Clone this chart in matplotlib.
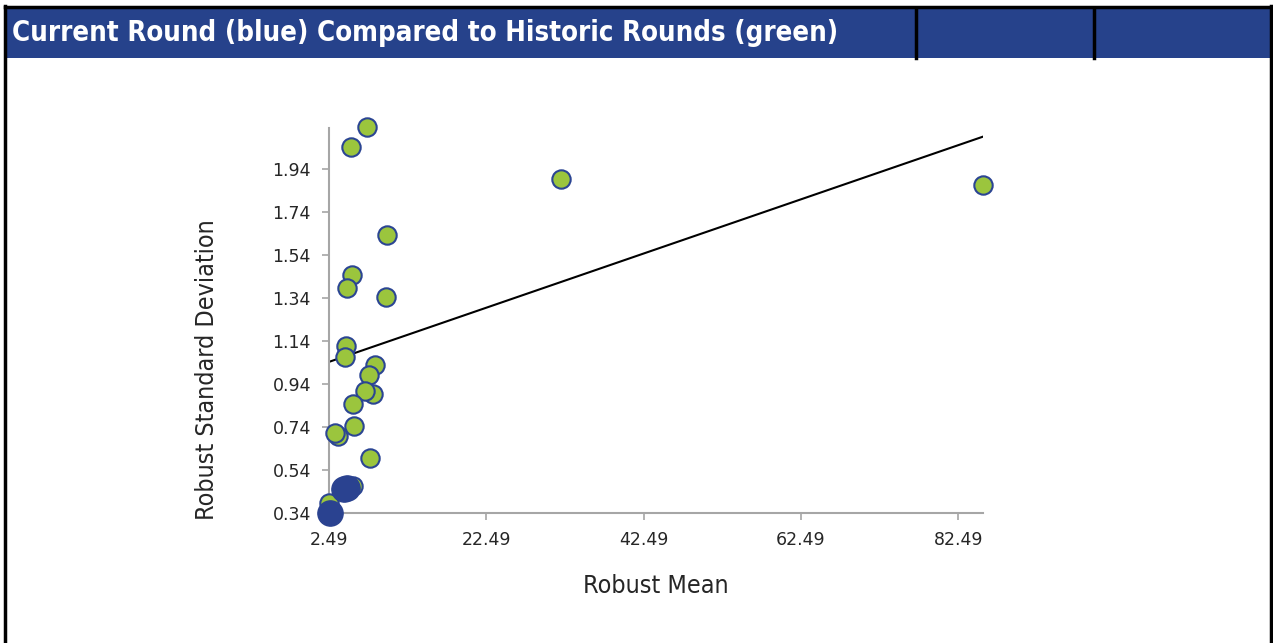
import numpy as np
import matplotlib
matplotlib.use("Agg")
import matplotlib.pyplot as plt
from matplotlib.patches import Rectangle
from matplotlib.lines import Line2D
from matplotlib import font_manager

# ---- data ----
hist_x = [7.28, 5.25, 9.9, 5.38, 4.82, 9.7, 4.69, 4.56, 8.30, 7.58, 8.12, 7.02,
          5.58, 5.67, 3.6, 3.29, 7.70, 5.58, 2.45, 32.0, 85.6]
hist_y = [2.134, 2.041, 1.634, 1.446, 1.385, 1.345, 1.117, 1.064, 1.027, 0.980,
          0.893, 0.909, 0.846, 0.745, 0.698, 0.713, 0.597, 0.466, 0.385, 1.893, 1.866]
cur_x = [2.62, 4.4, 4.8]
cur_y = [0.341, 0.45, 0.455]
x_ticks = [2.49, 22.49, 42.49, 62.49, 82.49]
y_ticks = [0.34, 0.54, 0.74, 0.94, 1.14, 1.34, 1.54, 1.74, 1.94]
title = "Current Round (blue) Compared to Historic Rounds (green)"

W, H = 1273, 643
fig = plt.figure(figsize=(W / 100, H / 100), dpi=100)
fig.patch.set_facecolor("white")

def fx(px):
    return px / W

def fy(py):
    return 1 - py / H

NAVY = "#26428B"

has_cond = any("Condensed" in f.fname and "DejaVuSans" in f.fname
               for f in font_manager.fontManager.ttflist)

def cprops(size, weight="normal"):
    return dict(family="DejaVu Sans", fontstretch="condensed" if has_cond else "normal",
                fontsize=size, fontweight=weight)

# title bar
fig.add_artist(Rectangle((fx(7), fy(58)), fx(1270) - fx(7), fy(8) - fy(58),
                         transform=fig.transFigure, facecolor=NAVY, edgecolor="none"))
tsize = 19.8 if has_cond else 17.6
fig.text(fx(12), fy(33), title, color="white", va="center", ha="left", **cprops(tsize, "bold"))
# borders
for (x0, y0, x1, y1, lw) in [(5.5, 6, 5.5, 643, 2.5), (1271, 6, 1271, 643, 2.5),
                             (5, 7, 1272, 7, 2.5), (916, 8, 916, 58, 2.5),
                             (1094, 8, 1094, 58, 2.5)]:
    fig.add_artist(Line2D([fx(x0), fx(x1)], [fy(y0), fy(y1)], transform=fig.transFigure,
                          color="black", linewidth=lw))

# axes
ax = fig.add_axes([fx(329), fy(513), fx(983) - fx(329), fy(128) - fy(513)])
ax.set_xlim(2.49, 85.65)
ax.set_ylim(0.34, 2.13)
ax.set_facecolor("none")

hx = np.array(hist_x)
hy = np.array(hist_y)
coef = np.polyfit(hx, hy, 1)
tx = np.array([hx.min(), hx.max()])
ax.plot(tx, np.polyval(coef, tx), color="black", linewidth=1.5, zorder=2)

ax.scatter(hist_x, hist_y, s=175, facecolor="#9BC53D", edgecolor="#2B4593",
           linewidth=1.5, zorder=3, clip_on=False)
ax.scatter(cur_x, cur_y, s=330, facecolor="#2A4290", edgecolor="#2A4290",
           linewidth=1, zorder=4, clip_on=False)

for s in ["top", "right"]:
    ax.spines[s].set_visible(False)
for s in ["left", "bottom"]:
    ax.spines[s].set_color("#A6A6A6")
    ax.spines[s].set_linewidth(1.5)

ax.set_xticks(x_ticks)
ax.set_yticks(y_ticks)
ax.set_xticklabels([f"{v:.2f}" for v in x_ticks])
ax.set_yticklabels([f"{v:.2f}" for v in y_ticks])
ax.tick_params(axis="both", direction="out", length=5, width=1.2, color="#A6A6A6",
               labelsize=12.5, labelcolor="#262626", pad=8)
for lab in ax.get_xticklabels() + ax.get_yticklabels():
    lab.set_family("DejaVu Sans")

lsize = 18 if has_cond else 16.3
fig.text(fx(656), fy(586), "Robust Mean", color="#262626",
         ha="center", va="center", **cprops(lsize))
fig.text(fx(207), fy(370), "Robust Standard Deviation",
         color="#262626", ha="center", va="center", rotation=90, **cprops(lsize))

fig.savefig("out.png", dpi=100)
